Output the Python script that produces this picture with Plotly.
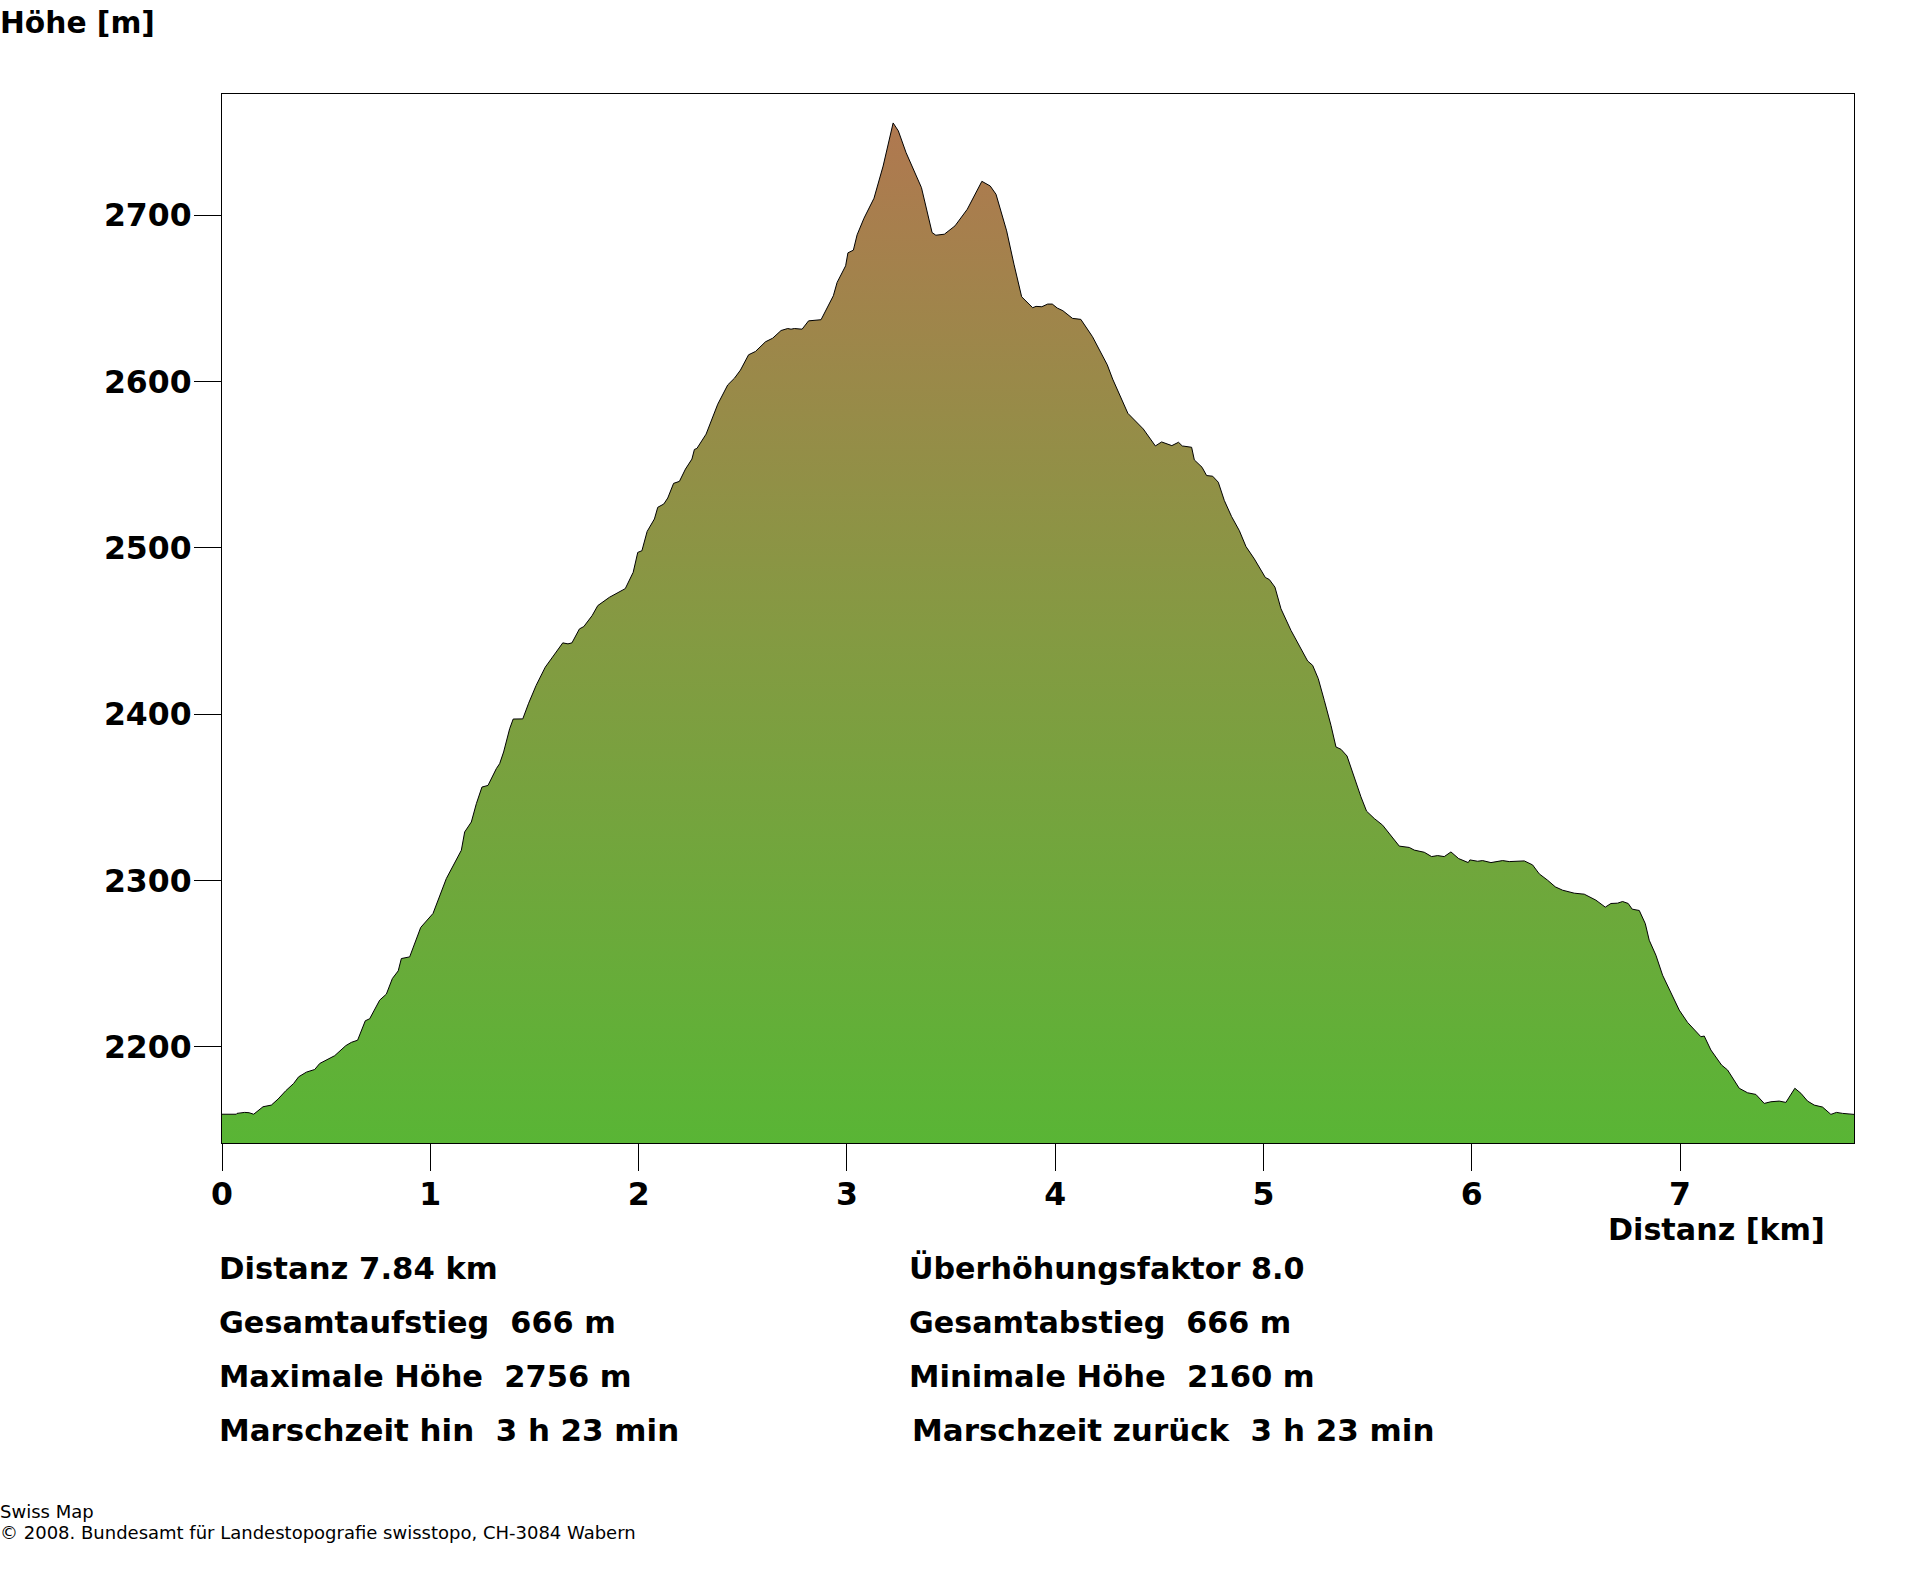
import plotly.graph_objects as go

# Distance along the route [km]
distance_km = [
    0, .069, .072, .109, .13, .152, .197, .237, .269, .306, .344, .368, .405, .445, .469, .541, .594, .621, .651,
    .688, .709, .757, .789, .818, .846, .861, .901, .954, 1.013, 1.032, 1.077, 1.149, 1.165, 1.197, 1.221, 1.248,
    1.277, 1.317, 1.333, 1.352, 1.381, 1.398, 1.444, 1.472, 1.508, 1.552, 1.596, 1.636, 1.661, 1.680, 1.716, 1.737,
    1.777, 1.804, 1.860, 1.892, 1.936, 1.974, 1.996, 2.016, 2.041, 2.076, 2.092, 2.121, 2.140, 2.168, 2.196, 2.225,
    2.256, 2.268, 2.280, 2.324, 2.340, 2.380, 2.428, 2.460, 2.489, 2.528, 2.561, 2.609, 2.644, 2.684, 2.716, 2.732,
    2.748, 2.785, 2.816, 2.876, 2.935, 2.953, 2.994, 3.005, 3.031, 3.049, 3.082, 3.130, 3.174, 3.222, 3.247, 3.284,
    3.358, 3.409, 3.427, 3.468, 3.519, 3.578, 3.648, 3.688, 3.716, 3.767, 3.802, 3.839, 3.892, 3.908, 3.936, 3.964,
    3.986, 4.010, 4.037, 4.083, 4.123, 4.179, 4.250, 4.276, 4.349, 4.423, 4.481, 4.511, 4.560, 4.592, 4.610, 4.655,
    4.668, 4.705, 4.727, 4.756, 4.783, 4.812, 4.847, 4.884, 4.916, 4.956, 5.009, 5.028, 5.055, 5.084, 5.132, 5.185,
    5.212, 5.236, 5.263, 5.292, 5.324, 5.348, 5.372, 5.401, 5.436, 5.468, 5.495, 5.532, 5.572, 5.604, 5.633, 5.652,
    5.700, 5.724, 5.772, 5.807, 5.836, 5.868, 5.900, 5.937, 5.983, 5.991, 6.028, 6.052, 6.092, 6.148, 6.180, 6.225,
    6.252, 6.292, 6.324, 6.364, 6.401, 6.436, 6.492, 6.540, 6.596, 6.641, 6.668, 6.700, 6.724, 6.751, 6.770, 6.804,
    6.833, 6.852, 6.884, 6.916, 6.956, 6.996, 7.036, 7.100, 7.116, 7.148, 7.199, 7.228, 7.284, 7.324, 7.364, 7.404,
    7.436, 7.476, 7.508, 7.551, 7.580, 7.612, 7.644, 7.684, 7.724, 7.751, 7.780, 7.835,
]

# Elevation [m]
elevation_m = [
    2159.5, 2159.5, 2160, 2160.6, 2160.4, 2159.5, 2164, 2165, 2168.6, 2173.6, 2178, 2182, 2184.8, 2186.4, 2190, 2194.7,
    2200.7, 2202.7, 2204, 2215.7, 2216.9, 2228.1, 2231.7, 2241.1, 2245.7, 2253.1, 2254.1, 2271.8, 2280.2, 2286.2,
    2301.2, 2318.2, 2329.2, 2335.2, 2346.2, 2356.2, 2357.2, 2367.3, 2370.3, 2377.3, 2391.3, 2397.1, 2397.2, 2406.6,
    2417.3, 2428.3, 2435.9, 2442.9, 2442.3, 2442.9, 2451.3, 2452.7, 2459.3, 2465.3, 2470.3, 2472.7, 2475.5, 2485.3,
    2497.3, 2498.3, 2509.9, 2517.4, 2524.4, 2526.4, 2530.0, 2538.8, 2540.0, 2547.4, 2553.4, 2559.2, 2559.8, 2568.4,
    2573.4, 2586.4, 2598.0, 2602.0, 2606.9, 2616.1, 2618.1, 2623.9, 2626.1, 2630.7, 2631.9, 2631.5, 2631.9, 2631.5,
    2636.5, 2637.2, 2651.6, 2659.6, 2669.6, 2677.4, 2679.0, 2688.2, 2698.2, 2710.2, 2729.6, 2755.5, 2750.7, 2737.7,
    2716.6, 2689.6, 2688.0, 2688.6, 2693.6, 2703.6, 2720.4, 2717.6, 2712.6, 2690.6, 2670.6, 2651.0, 2644.4, 2645.2,
    2645.0, 2646.6, 2646.6, 2644.2, 2642.6, 2638.0, 2637.4, 2627.0, 2610.1, 2601.5, 2580.9, 2571.5, 2561.3, 2563.7,
    2561.5, 2563.5, 2561.3, 2560.5, 2552.9, 2548.5, 2543.5, 2543.1, 2539.5, 2528.5, 2518.8, 2510.4, 2500.8, 2493.4,
    2482.2, 2481, 2476.4, 2463.4, 2450.4, 2438.4, 2432.0, 2429.4, 2421.4, 2408.3, 2393.3, 2380.3, 2378.9, 2374.9,
    2361.3, 2350.3, 2341.7, 2337.3, 2333.3, 2328.3, 2324.3, 2320.7, 2319.9, 2318.3, 2317.0, 2314.4, 2315.0, 2314.4,
    2317.2, 2313.2, 2310.8, 2312.4, 2311.6, 2312, 2310.8, 2312, 2311.4, 2311.4, 2311.8, 2309.4, 2304, 2300.2, 2296.2,
    2294.2, 2292.4, 2291.8, 2288.2, 2284, 2286.2, 2286.4, 2287.4, 2286.2, 2282.8, 2282, 2274.1, 2264.1, 2255.1, 2243.1,
    2232.1, 2222.1, 2214.7, 2206.1, 2206.5, 2198.1, 2189.1, 2186.1, 2175.1, 2172.4, 2171.4, 2166.0, 2167.0, 2167.4,
    2166.6, 2175.1, 2172.1, 2167.4, 2165, 2163.8, 2159.4, 2160.6, 2160, 2159.4,
]

x_ticks = [0, 1, 2, 3, 4, 5, 6, 7]
y_ticks = [2200, 2300, 2400, 2500, 2600, 2700]
x_range = [0, 7.835]
y_range = [2142.2, 2772.9]

W, H = 1920, 1572
L, R, T, B = 222.4, 1854.3, 93.8, 1143.3
FONT = "DejaVu Sans"

fig = go.Figure()
fig.add_trace(go.Scatter(
    x=distance_km, y=elevation_m, mode="lines", fill="tozeroy",
    line=dict(color="#000000", width=1),
    fillgradient=dict(
        type="vertical", start=2142, stop=2756,
        colorscale=[[0, "#59B535"], [0.5, "#849A42"], [1, "#B07850"]],
    ),
    hoverinfo="skip", showlegend=False,
))


def label(text, px, py, size=30.8, weight=700, anchor="left"):
    fig.add_annotation(
        text=text, xref="paper", yref="paper",
        x=(px - L) / (R - L), y=(B - py) / (B - T),
        xanchor=anchor, yanchor="middle", showarrow=False, borderpad=0, borderwidth=0,
        font=dict(family=FONT, size=size, color="#000000", weight=weight),
    )


label("Höhe [m]", 0, 22, size=29.7)
label("Distanz [km]", 1608, 1229.5, size=30.2)
label("Distanz 7.84 km", 219, 1268.5, size=30.7)
label("Gesamtaufstieg  666 m", 219, 1322.5, size=30.3)
label("Maximale Höhe  2756 m", 219, 1376.5, size=30.5)
label("Marschzeit hin  3 h 23 min", 219, 1430.5, size=30.9)
label("Überhöhungsfaktor 8.0", 909, 1268.5, size=30.2)
label("Gesamtabstieg  666 m", 909, 1322.5, size=30.2)
label("Minimale Höhe  2160 m", 909, 1376.5, size=30.6)
label("Marschzeit zurück  3 h 23 min", 912, 1430.5, size=30.95)
label("Swiss Map", 0, 1512, size=18, weight=400)
label("© 2008. Bundesamt für Landestopografie swisstopo, CH-3084 Wabern", 0, 1533, size=18, weight=400)

axis = dict(
    showgrid=False, zeroline=False, showline=True, mirror=True, linecolor="#000000", linewidth=1.2,
    ticks="outside", ticklen=27, tickwidth=1, tickcolor="#000000",
    tickfont=dict(family=FONT, size=31.5, color="#000000", weight=700),
)
fig.update_xaxes(range=x_range, tickmode="array", tickvals=x_ticks, ticklabelstandoff=-4, **axis)
fig.update_yaxes(range=y_range, tickmode="array", tickvals=y_ticks, ticklabelstandoff=-4, **axis)
fig.update_layout(
    width=W, height=H, autosize=False,
    margin=dict(l=L, r=W - R, t=T, b=H - B, pad=0),
    paper_bgcolor="#FFFFFF", plot_bgcolor="#FFFFFF",
)
fig.write_html("out.html", config={"displayModeBar": False}, post_script="document.body.style.margin='0';")
